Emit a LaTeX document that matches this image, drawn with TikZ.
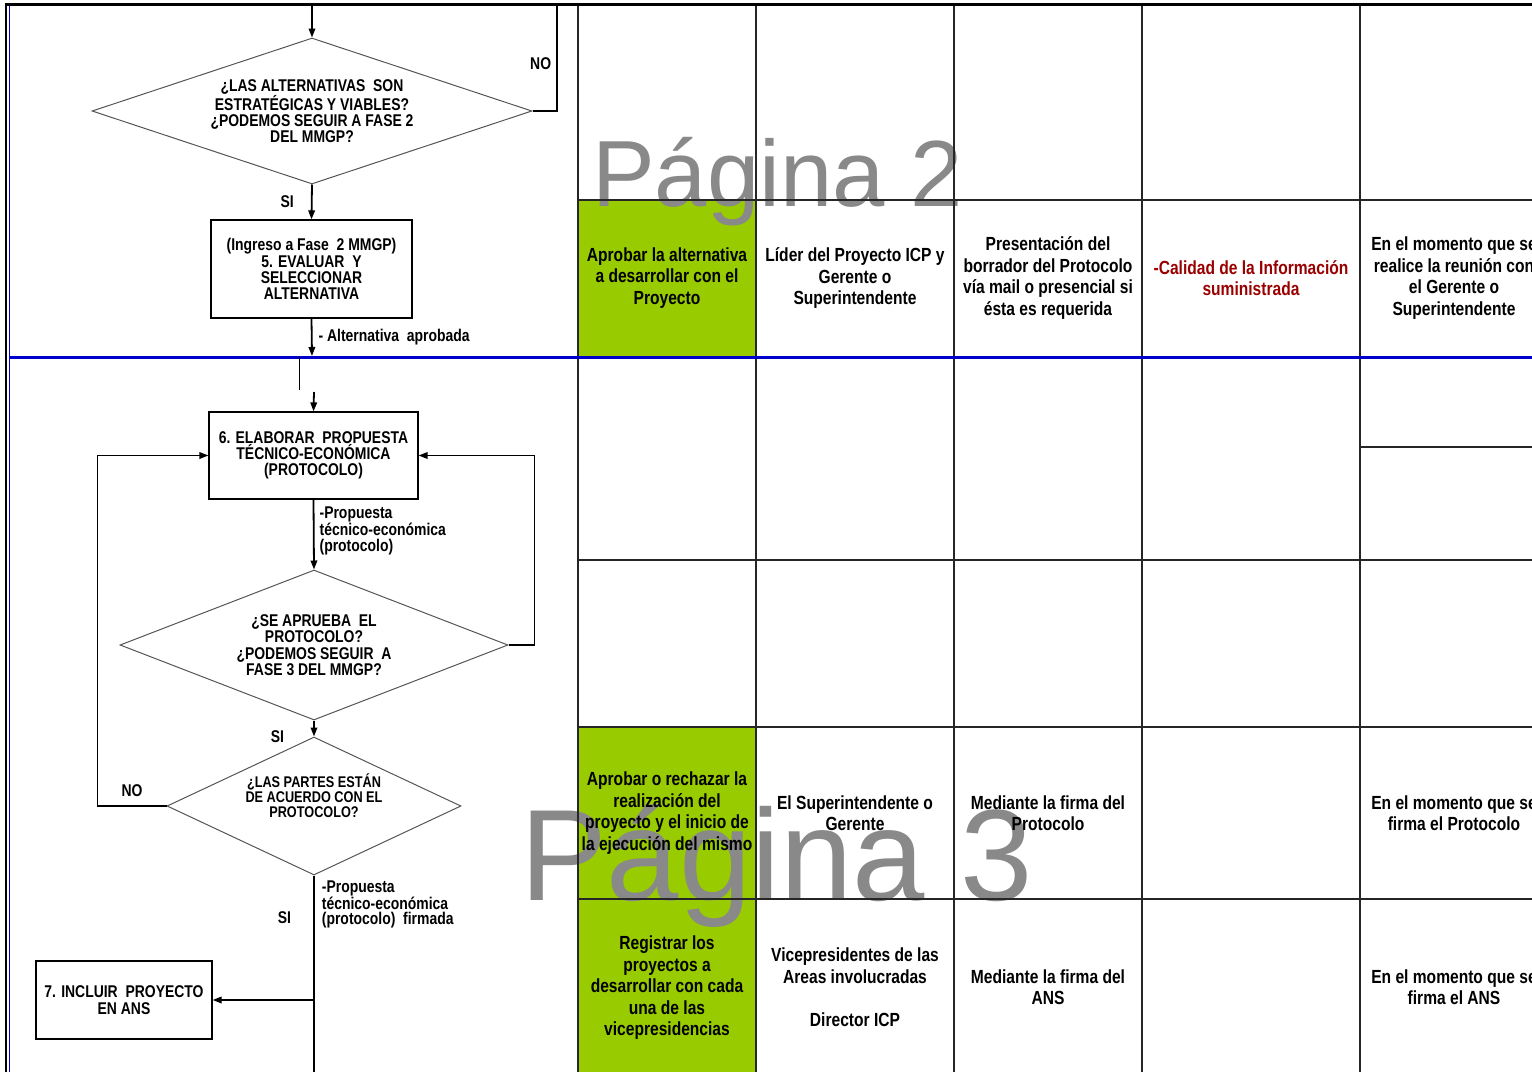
\documentclass[tikz,border=0pt]{standalone}
\usepackage{fontspec}
\setmainfont{Liberation Sans}[FakeStretch=0.82]
\newfontfamily\marcafont{Liberation Sans}
\usetikzlibrary{arrows.meta,positioning,shapes.geometric}
\definecolor{FlujoAzul}{HTML}{0000CC}
\definecolor{CeldaVerde}{HTML}{99CC00}
\definecolor{TextoRojo}{HTML}{990000}
\definecolor{MarcaGris}{HTML}{898989}
\definecolor{LineaGris}{HTML}{555555}
\tikzset{
  flecha/.style={-{Triangle[length=9pt,width=6.5pt]},line width=1.8pt},
  enlace/.style={line width=1.8pt},
  paso/.style={draw,line width=1.2pt,align=center,inner sep=2pt,font=\bfseries\fontsize{17}{16.3}\selectfont},
  decision/.style={diamond,draw=LineaGris,line width=1pt,align=center,inner sep=0pt,font=\bfseries\fontsize{17}{16.3}\selectfont},
  rotulo/.style={align=left,inner sep=0pt,font=\bfseries\fontsize{17}{15.5}\selectfont},
  celda/.style={align=center,inner sep=0pt,font=\bfseries\fontsize{19}{21.5}\selectfont},
  rejilla/.style={draw=black!85,line width=1.6pt},
  marca/.style={anchor=base west,inner sep=0pt,text=MarcaGris,font=\marcafont\fontsize{94}{94}\selectfont}
}
\begin{document}
\begin{tikzpicture}[x=1pt,y=-1pt]
  \useasboundingbox (0,0) rectangle (1532,1072);
  \clip (0,0) rectangle (1532,1072);
  \fill[CeldaVerde] (578,200) rectangle (756,357);
  \fill[CeldaVerde] (578,727) rectangle (756,1072);
  \node[marca] (pag2) at (592,206) {Página 2};
  \node[marca,font=\marcafont\fontsize{130}{130}\selectfont] (pag3) at (520,900) {Página 3};
  \foreach \x in {578,756,954,1142,1360}
    \draw[rejilla] (\x,4) -- (\x,1072);
  \foreach \y in {200,560,727,899}
    \draw[rejilla] (578,\y) -- (1532,\y);
  \draw[rejilla] (1360,447) -- (1532,447);
  \draw[line width=3pt] (5,4) -- (1532,4);
  \draw[line width=2.6pt] (6,4) -- (6,1072);
  \draw[FlujoAzul,line width=0.9pt] (9,6) -- (9,1072);
  \draw[FlujoAzul,line width=3pt] (9,357) -- (1532,357);

  \node[decision,aspect=3,minimum width=440pt,minimum height=146pt] (d1) at (312,111)
    {¿LAS ALTERNATIVAS\ \ SON\\ESTRATÉGICAS Y VIABLES?\\¿PODEMOS SEGUIR A FASE 2\\DEL MMGP?};
  \node[paso,minimum width=201pt,minimum height=98pt] (p5) at (311.5,269)
    {(Ingreso a Fase\ \ 2 MMGP)\\5. EVALUAR\ \ Y\\SELECCIONAR\\ALTERNATIVA};
  \node[paso,minimum width=209pt,minimum height=87pt] (p6) at (313.5,455.5)
    {6. ELABORAR\ \ PROPUESTA\\TÉCNICO-ECONÓMICA\\(PROTOCOLO)};
  \node[decision,aspect=2.6,minimum width=388pt,minimum height=150pt] (d2) at (314,645)
    {¿SE APRUEBA\ \ EL\\PROTOCOLO?\\¿PODEMOS SEGUIR\ \ A\\FASE 3 DEL MMGP?};
  \node[decision,aspect=2.1,minimum width=294pt,minimum height=138pt] (d3) at (314,806) {};
  \node[rotulo,align=center,font=\bfseries\fontsize{15.5}{15}\selectfont] (d3txt) at (314,796)
    {¿LAS PARTES ESTÁN\\DE ACUERDO CON EL\\PROTOCOLO?};
  \node[paso,minimum width=176pt,minimum height=78pt] (p7) at (124,1000) {7. INCLUIR\ \ PROYECTO\\EN ANS};

  \coordinate (inicio) at (312,5);
  \coordinate (retorno) at (557,4);
  \coordinate (limite) at (312,356);
  \coordinate (tramo1) at (299,357);
  \coordinate (tramo2) at (299,390);
  \coordinate (reingreso) at (314,392);
  \coordinate (rama) at (314,1000);
  \coordinate (salida) at (314,1072);

  \draw[flecha] (inicio) -- (d1.north);
  \draw[enlace] (d1.east) -| node[rotulo,pos=0.72,left=5pt]{NO} (retorno);
  \draw[flecha] (d1.south) -- node[rotulo,left=17pt]{SI} (p5.north);
  \draw[flecha] (p5.south) -- node[rotulo,right=6pt]{- Alternativa\ \ aprobada} (limite);
  \draw[line width=0.9pt] (tramo1) -- (tramo2);
  \draw[flecha] (reingreso) -- (p6.north);
  \draw[flecha] (p6.south) -- node[rotulo,pos=0.45,right=5pt]{-Propuesta\\técnico-económica\\(protocolo)} (d2.north);
  \draw[flecha] (d2.east) -- ++(26,0) |- (p6.east);
  \draw[flecha] (d2.south) -- node[rotulo,at end,left=29pt]{SI} (d3.north);
  \draw[flecha] (d3.west) -- node[rotulo,above=8pt]{NO} ++(-69,0) |- (p6.west);
  \draw[enlace] (d3.south) -- node[rotulo,pos=0.213,left=22pt]{SI}
    node[rotulo,at start,anchor=north west,xshift=7pt,yshift=-4pt]{-Propuesta\\técnico-económica\\(protocolo)\ \ firmada} (salida);
  \draw[flecha] (rama) -- (p7.east);

  \node[celda] (act1) at (667,278) {Aprobar la alternativa\\a desarrollar con el\\Proyecto};
  \node[celda] (resp1) at (855,278) {Líder del Proyecto ICP y\\Gerente o\\Superintendente};
  \node[celda] (modo1) at (1048,278) {Presentación del\\borrador del Protocolo\\vía mail o presencial si\\ésta es requerida};
  \node[celda,text=TextoRojo] (ctrl1) at (1251,278) {-Calidad de la Información\\suministrada};
  \node[celda] (cuando1) at (1454,278) {En el momento que se\\realice la reunión con\\el Gerente o\\Superintendente};
  \node[celda] (act2) at (667,813) {Aprobar o rechazar la\\realización del\\proyecto y el inicio de\\la ejecución del mismo};
  \node[celda] (resp2) at (855,813) {El Superintendente o\\Gerente};
  \node[celda] (modo2) at (1048,813) {Mediante la firma del\\Protocolo};
  \node[celda] (cuando2) at (1454,813) {En el momento que se\\firma el Protocolo};
  \node[celda] (act3) at (667,988) {Registrar los\\proyectos a\\desarrollar con cada\\una de las\\vicepresidencias};
  \node[celda] (resp3) at (855,987) {Vicepresidentes de las\\Areas involucradas\\[21.5pt]Director ICP};
  \node[celda] (modo3) at (1048,987) {Mediante la firma del\\ANS};
  \node[celda] (cuando3) at (1454,987) {En el momento que se\\firma el ANS};
\end{tikzpicture}
\end{document}
